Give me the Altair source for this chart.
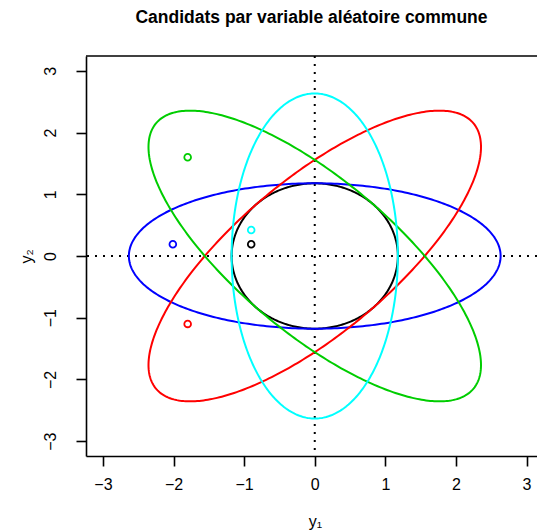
import altair as alt
import numpy as np
import pandas as pd

# Ellipse definitions: covariance entries (var1, cov12, var2) and stroke colour
ell_names = ["noir", "bleu", "rouge", "vert", "cyan"]
ell_colors = ["#000000", "#0000FF", "#FF0000", "#00CD00", "#00FFFF"]
ell_var1 = [1.0, 5.0, 4.0, 4.0, 1.0]
ell_cov = [0.0, 0.0, 3.0, -3.0, 0.0]
ell_var2 = [1.0, 1.0, 4.0, 4.0, 5.0]
ell_radius = 1.1774  # common contour level

# Candidate points, one per ellipse
pt_colors = ["#000000", "#0000FF", "#00FFFF", "#FF0000", "#00CD00"]
pt_x = [-0.90, -2.01, -0.90, -1.80, -1.80]
pt_y = [0.19, 0.19, 0.42, -1.10, 1.60]

x_ticks = [-3, -2, -1, 0, 1, 2, 3]
y_ticks = [-3, -2, -1, 0, 1, 2, 3]

title_text = "Candidats par variable aléatoire commune"

# Build each contour as a closed path through the Cholesky factor of its covariance
t = np.linspace(0, 2 * np.pi, 361)
rows = []
for k, name in enumerate(ell_names):
    cov = np.array([[ell_var1[k], ell_cov[k]], [ell_cov[k], ell_var2[k]]])
    L = np.linalg.cholesky(cov)
    pts = ell_radius * (L @ np.vstack([np.cos(t), np.sin(t)]))
    for i in range(len(t)):
        rows.append({"ellipse": name, "col": ell_colors[k], "ordre": i,
                     "y1": pts[0, i], "y2": pts[1, i]})
ell_df = pd.DataFrame(rows)
pt_df = pd.DataFrame({"y1": pt_x, "y2": pt_y, "col": pt_colors})

FONT = "Liberation Sans"
W, H = 451, 400
xscale = alt.Scale(domain=[-3.24, 3.148], nice=False, zero=False)
yscale = alt.Scale(domain=[-3.24, 3.24], nice=False, zero=False)

xaxis = alt.Axis(values=x_ticks, title="y₁", titleX=229, titleY=65,
                 titleBaseline="middle", titleAlign="center",
                 labelPadding=10, labelFlush=False, labelOverlap=False,
                 format="d")
yaxis = alt.Axis(values=y_ticks, title="y₂", titleAngle=270, titleX=-60,
                 titleY=200, titleBaseline="middle", titleAlign="center",
                 labelAngle=270, labelAlign="center", labelBaseline="alphabetic",
                 labelPadding=21, labelFlush=False, labelOverlap=False,
                 format="d")

ellipses = alt.Chart(ell_df).mark_line(strokeWidth=2, clip=True).encode(
    x=alt.X("y1:Q", scale=xscale, axis=xaxis),
    y=alt.Y("y2:Q", scale=yscale, axis=yaxis),
    color=alt.Color("col:N", scale=None),
    detail="ellipse:N",
    order="ordre:Q",
)

vline = alt.Chart(pd.DataFrame({"v": [0]})).mark_rule(
    color="black", strokeWidth=2, strokeDash=[2, 6]
).encode(x=alt.X("v:Q", scale=xscale))
hline = alt.Chart(pd.DataFrame({"h": [0]})).mark_rule(
    color="black", strokeWidth=2, strokeDash=[2, 6]
).encode(y=alt.Y("h:Q", scale=yscale))

top_border = alt.Chart(pd.DataFrame({"b": [0]})).mark_rule(
    color="black", strokeWidth=1.6
).encode(x=alt.value(0), x2=alt.value(W + 5), y=alt.value(0))

points = alt.Chart(pt_df).mark_point(size=45, strokeWidth=1.8, filled=False, opacity=1).encode(
    x=alt.X("y1:Q", scale=xscale),
    y=alt.Y("y2:Q", scale=yscale),
    color=alt.Color("col:N", scale=None),
)

title = alt.Chart(pd.DataFrame({"t": [title_text]})).mark_text(
    font=FONT, fontSize=17.5, fontWeight="bold", color="black",
    align="center", baseline="alphabetic"
).encode(text="t:N", x=alt.value(225.5), y=alt.value(-33.5))

chart = alt.layer(vline, hline, ellipses, points, top_border, title).properties(
    width=W,
    height=H,
    autosize=alt.AutoSizeParams(type="none"),
    padding={"left": 86, "top": 56, "right": 0, "bottom": 76},
).configure(
    background="white"
).configure_view(
    stroke=None
).configure_axis(
    grid=False, domain=True, domainColor="black", domainWidth=1.6,
    ticks=True, tickColor="black", tickWidth=1.6, tickSize=10,
    labelFont=FONT, labelFontSize=16, labelColor="black",
    titleFont=FONT, titleFontSize=16, titleFontWeight="normal", titleColor="black",
)

chart.save("out.html", embed_options={"renderer": "svg", "actions": False})
